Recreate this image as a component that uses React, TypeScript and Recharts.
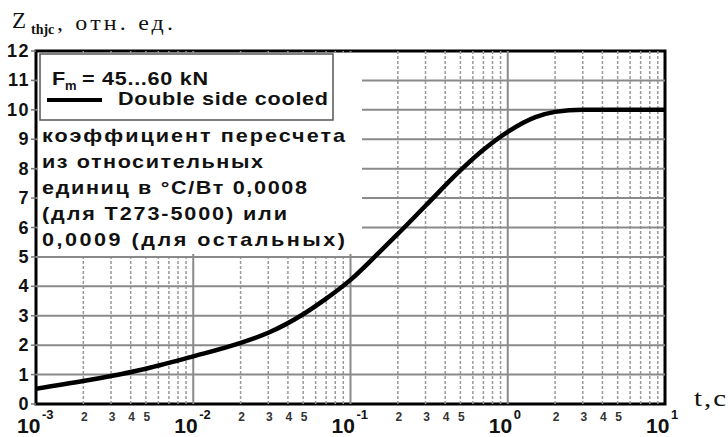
import React from 'react';
import { LineChart, Line, XAxis, YAxis, ReferenceLine, ReferenceArea } from 'recharts';

// transient thermal impedance, relative units, double side cooled
const timeS = [0.001, 0.002, 0.003, 0.005, 0.01, 0.02, 0.03, 0.05, 0.07, 0.1, 0.15, 0.2, 0.3, 0.5, 0.7, 1, 1.5, 2, 3, 5, 10];
const zthjc = [0.52, 0.78, 0.95, 1.2, 1.62, 2.08, 2.42, 3.05, 3.58, 4.22, 5.12, 5.78, 6.74, 7.94, 8.64, 9.25, 9.75, 9.93, 10.0, 10.0, 10.0];

const decades = [0.001, 0.01, 0.1, 1, 10];
const exponents = ['-3', '-2', '-1', '0', '1'];
const minorSteps = [2, 3, 4, 5, 6, 7, 8, 9];
const labelledSteps = [2, 3, 4, 5];
const yTicks = [0, 1, 2, 3, 4, 5, 6, 7, 8, 9, 10, 11, 12];

const legendTitle = '45...60 kN';
const legendSeries = 'Double side cooled';
const noteLines = [
  'коэффициент пересчета',
  'из относительных',
  'единиц в  °C/Вт  0,0008',
  '(для Т273-5000) или',
  '0,0009  (для остальных)',
];
const noteWidths = [303, 221, 265, 245, 303];

const data = timeS.map((t, i) => ({ t, z: zthjc[i] }));
const lastDecade = decades.length - 1;
const xTicks = decades.flatMap((d, i) => (i < lastDecade ? [d, ...labelledSteps.map((m) => d * m)] : [d]));
const minorLines = decades.slice(0, lastDecade).flatMap((d) => minorSteps.map((m) => d * m));

const SANS = "'Liberation Sans', Arial, sans-serif";
const SERIF = "'Liberation Serif', 'Times New Roman', serif";
const GRID = '#8a8a8a';
const STRETCH = 1.2;

// text drawn a little wider than the font, as on the printed sheet
const Wide = ({ x, y, width, size, children, serif, weight = 'bold' }: any) => (
  <text
    transform={`translate(${x},${y}) scale(${STRETCH},1)`}
    fontSize={size}
    fontFamily={serif ? SERIF : SANS}
    fontWeight={weight}
    textLength={width ? width / STRETCH : undefined}
    lengthAdjust="spacing"
  >
    {children}
  </text>
);

const XTick = (props: any) => {
  const { x, y, payload } = props;
  const v = payload.value;
  const di = decades.findIndex((d) => Math.abs(d - v) / d < 1e-6);
  if (di >= 0) {
    return (
      <g fontFamily={SANS} fontWeight="bold" fill="#111">
        <text x={x - 19} y={y + 29} fontSize={21}>10</text>
        <text x={x + 6} y={y + 15} fontSize={13}>{exponents[di]}</text>
      </g>
    );
  }
  const m = Math.round(v / 10 ** Math.floor(Math.log10(v) + 1e-9));
  return (
    <text x={x + 1} y={y + 17} textAnchor="middle" fontFamily={SANS} fontWeight="bold" fontSize={12} fill="#333">
      {m}
    </text>
  );
};

const YTick = (props: any) => {
  const { x, y, payload } = props;
  return (
    <text x={x + 1} y={y + 6} textAnchor="end" fontFamily={SANS} fontWeight="bold" fontSize={18} letterSpacing={1.5} fill="#111">
      {payload.value}
    </text>
  );
};

export default function App() {
  return (
    <div style={{ position: 'absolute', left: 0, top: 0, width: 728, height: 437, background: '#fff' }}>
      <LineChart width={728} height={437} data={data} margin={{ top: 51, right: 63, bottom: 0, left: 0 }}>
        <XAxis
          dataKey="t"
          type="number"
          scale="log"
          domain={[0.001, 10]}
          ticks={xTicks}
          interval={0}
          allowDataOverflow
          axisLine={false}
          tickLine={false}
          tickSize={0}
          tickMargin={0}
          height={33}
          tick={<XTick />}
        />
        <YAxis
          type="number"
          domain={[0, 12]}
          ticks={yTicks}
          interval={0}
          width={36}
          axisLine={false}
          tickSize={5}
          tickMargin={2}
          tickLine={{ stroke: '#777', strokeWidth: 1.5 }}
          tick={<YTick />}
        />
        {minorLines.map((v) => (
          <ReferenceLine key={`m${v}`} x={v} stroke="#999" strokeWidth={1.5} strokeDasharray="3 2" />
        ))}
        {decades.slice(1, lastDecade).map((v) => (
          <ReferenceLine key={`d${v}`} x={v} stroke={GRID} strokeWidth={2} />
        ))}
        {yTicks.slice(1, -1).map((v) => (
          <ReferenceLine key={`h${v}`} y={v} stroke={GRID} strokeWidth={2} />
        ))}
        <ReferenceArea x1={0.001} x2={10} y1={0} y2={12} fill="none" fillOpacity={0} stroke="#000" strokeWidth={3} />
        <Line
          type="monotone"
          dataKey="z"
          stroke="#000"
          strokeWidth={4.5}
          dot={false}
          activeDot={false}
          isAnimationActive={false}
        />
      </LineChart>

      <svg width={728} height={437} style={{ position: 'absolute', left: 0, top: 0, pointerEvents: 'none' }}>
        {/* axis captions */}
        <g fill="#111">
          <text x={12} y={28} fontSize={23} fontFamily={SERIF}>Z</text>
          <text x={31} y={34} fontSize={14} fontFamily={SERIF} fontWeight="bold">thjc</text>
          <Wide x={57} y={30} width={116} size={20} serif weight="normal">, отн. ед.</Wide>
          <Wide x={694} y={406} width={32} size={24} serif weight="normal">t,c</Wide>
        </g>

        {/* legend and conversion note */}
        <rect x={38} y={53} width={324} height={201} fill="#fff" />
        <rect x={40} y={54} width={293} height={66} fill="none" stroke="#555" strokeWidth={1.5} />
        <g fill="#111">
          <Wide x={52} y={85} size={18}>F</Wide>
          <text x={65} y={90} fontSize={13} fontFamily={SANS} fontWeight="bold">m</text>
          <Wide x={82} y={85} width={126} size={18}>= {legendTitle}</Wide>
          <line x1={47} y1={100} x2={102} y2={100} stroke="#000" strokeWidth={4} />
          <Wide x={118} y={105} width={210} size={18}>{legendSeries}</Wide>
          {noteLines.map((s, i) => (
            <Wide key={s} x={42} y={142 + i * 26} width={noteWidths[i]} size={18}>
              {s}
            </Wide>
          ))}
        </g>
      </svg>
    </div>
  );
}
